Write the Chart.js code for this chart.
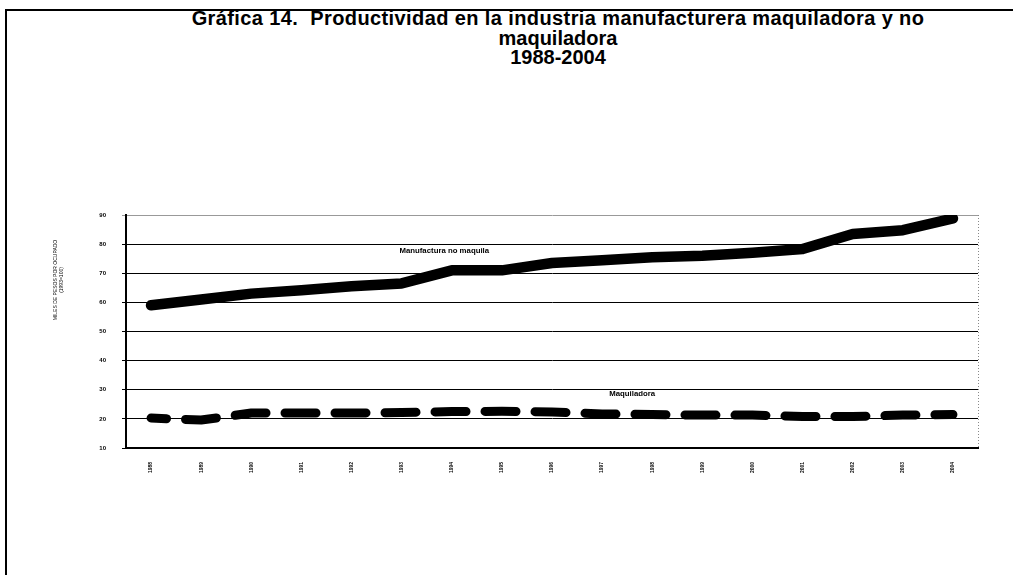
<!DOCTYPE html>
<html>
<head>
<meta charset="utf-8">
<script src="https://cdn.jsdelivr.net/npm/chart.js@4.4.0/dist/chart.umd.min.js"></script>
<style>
  body { margin: 0; background: #fff; }
  #wrap { position: relative; width: 1013px; height: 575px; overflow: hidden; }
  #frame { position: absolute; left: 5px; top: 9px; width: 1008px; height: 570px;
           border-top: 2px solid #000; border-left: 2px solid #000; }
  #title { position: absolute; left: 108px; width: 900px; top: 9px; text-align: center;
           font: bold 20px "Liberation Sans", Arial, sans-serif; line-height: 19.5px; color: #000; }
  #title .l1 { letter-spacing: 0.4px; }
  canvas { position: absolute; left: 0; top: 0; }
</style>
</head>
<body>
<div id="wrap">
  <div id="frame"></div>
  <div id="title"><span class="l1">Gráfica 14.&nbsp; Productividad en la industria manufacturera maquiladora y no</span><br>maquiladora<br>1988-2004</div>
  <canvas id="prodChart" width="1013" height="575"></canvas>
</div>
<script>
// años
const years = ['1988','1989','1990','1991','1992','1993','1994','1995','1996',
               '1997','1998','1999','2000','2001','2002','2003','2004'];
// miles de pesos por ocupado
const noMaquila = [59, 61, 63, 64.2, 65.5, 66.5, 71, 71, 73.5, 74.5, 75.5, 76, 77, 78.3, 83.5, 84.8, 88.8];
const maquiladora = [20.3, 19.6, 22, 22, 22, 22.2, 22.5, 22.6, 22.4, 21.7, 21.5, 21.3, 21.3, 20.8, 20.8, 21.3, 21.5];
const yTicks = [10, 20, 30, 40, 50, 60, 70, 80, 90];
const yTitle = ['MILES DE PESOS POR OCUPADO', '(1993=100)'];

const seriesLabels = [
  { text: 'Manufactura no maquila', x: 5.85, y: 77.8 },
  { text: 'Maquiladora', x: 9.6, y: 28.6 }
];

// etiquetas, titulo del eje y borde derecho punteado
const extras = {
  id: 'extras',
  afterDatasetsDraw(chart) {
    const ctx = chart.ctx, a = chart.chartArea;
    const xs = chart.scales.x, ys = chart.scales.y;
    ctx.save();
    ctx.strokeStyle = '#888';
    ctx.lineWidth = 1;
    ctx.setLineDash([1, 2]);
    ctx.beginPath();
    ctx.moveTo(a.right + 0.5, a.top);
    ctx.lineTo(a.right + 0.5, a.bottom);
    ctx.stroke();
    ctx.setLineDash([]);
    ctx.fillStyle = '#000';
    ctx.font = 'bold 7.8px "Liberation Sans", Arial, sans-serif';
    ctx.textAlign = 'center';
    ctx.textBaseline = 'middle';
    seriesLabels.forEach(l => {
      ctx.fillText(l.text, xs.getPixelForValue(l.x), ys.getPixelForValue(l.y));
    });
    // titulo del eje y
    ctx.font = '5px "Liberation Sans", Arial, sans-serif';
    ctx.translate(56, 280);
    ctx.rotate(-Math.PI / 2);
    yTitle.forEach((t, i) => ctx.fillText(t, 0, i * 6));
    ctx.restore();
  }
};

new Chart(document.getElementById('prodChart'), {
  type: 'line',
  data: {
    labels: years,
    datasets: [{
      label: 'Manufactura no maquila',
      data: noMaquila,
      borderColor: '#000',
      borderWidth: 10.5,
      borderCapStyle: 'round',
      borderJoinStyle: 'round',
      pointRadius: 0,
      tension: 0
    }, {
      label: 'Maquiladora',
      data: maquiladora,
      borderColor: '#000',
      borderWidth: 9,
      borderDash: [31, 19],
      borderDashOffset: 15.5,
      borderCapStyle: 'round',
      borderJoinStyle: 'round',
      pointRadius: 0,
      tension: 0
    }]
  },
  options: {
    responsive: false,
    animation: false,
    layout: { padding: { left: 46, right: 35, top: 215, bottom: 97 } },
    plugins: {
      legend: { display: false },
      tooltip: { enabled: false }
    },
    scales: {
      x: {
        offset: true,
        grid: { display: false },
        border: { color: '#000', width: 2 },
        ticks: {
          color: '#000',
          font: { family: '"Liberation Sans", Arial, sans-serif', size: 5, weight: 'bold' },
          minRotation: 90, maxRotation: 90,
          padding: 6
        },
        afterFit: (axis) => { axis.height = 30; }
      },
      y: {
        min: 10, max: 90,
        afterBuildTicks: (axis) => { axis.ticks = yTicks.map(v => ({ value: v })); },
        grid: {
          color: (c) => c.tick && c.tick.value === 90 ? '#999' : '#000',
          lineWidth: 1,
          tickLength: 4,
          drawTicks: true
        },
        border: { color: '#000', width: 2 },
        ticks: {
          color: '#000',
          font: { family: '"Liberation Sans", Arial, sans-serif', size: 6, weight: 'bold' },
          padding: 16
        },
        afterFit: (axis) => { axis.width = 80; }
      }
    }
  },
  plugins: [extras]
});
</script>
</body>
</html>
